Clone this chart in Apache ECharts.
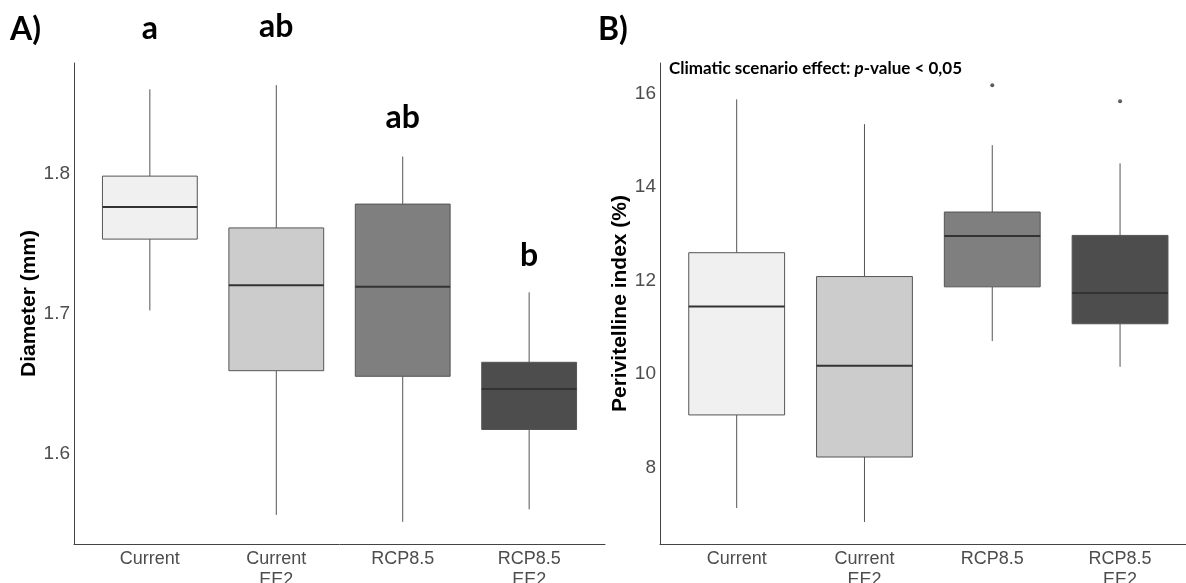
<!DOCTYPE html>
<html>
<head>
<meta charset="utf-8">
<script src="https://cdn.jsdelivr.net/npm/echarts@6/dist/echarts.min.js"></script>
<style>
html,body{margin:0;padding:0;background:#fff;}
#c{width:1186px;height:583px;}
</style>
</head>
<body>
<div id="c"></div>
<script>
// ---- data ----
const categories = ['Current', 'Current\nEE2', 'RCP8.5', 'RCP8.5\nEE2'];
const letters = ['a', 'ab', 'ab', 'b'];
const letterY = [1.903, 1.9045, 1.840, 1.7415];   // annotation heights (mm)

// Panel A: Diameter (mm)
const diamLow  = [1.702, 1.556, 1.551, 1.560];
const diamQ1   = [1.753, 1.659, 1.655, 1.617];
const diamMed  = [1.776, 1.720, 1.719, 1.646];
const diamQ3   = [1.798, 1.761, 1.778, 1.665];
const diamHigh = [1.860, 1.863, 1.812, 1.715];

// Panel B: Perivitelline index (%)
const periLow  = [7.13, 6.83, 10.70, 10.15];
const periQ1   = [9.12, 8.22, 11.86, 11.07];
const periMed  = [11.44, 10.17, 12.95, 11.73];
const periQ3   = [12.59, 12.08, 13.46, 12.96];
const periHigh = [15.87, 15.34, 14.89, 14.50];
const periOutlierCat = [3, 4];
const periOutlierVal = [16.17, 15.83];

const fills = ['#f0f0f0', '#cccccc', '#7f7f7f', '#4d4d4d'];

// ---- build ----
function boxData(lo, q1, med, q3, hi) {
  return categories.map((c, i) => [i + 1, lo[i], q1[i], med[i], q3[i], hi[i]]);
}

function renderBox(params, api) {
  const x = api.value(0);
  const idx = params.dataIndex;
  const pLo = api.coord([x, api.value(1)]);
  const pQ1 = api.coord([x, api.value(2)]);
  const pMed = api.coord([x, api.value(3)]);
  const pQ3 = api.coord([x, api.value(4)]);
  const pHi = api.coord([x, api.value(5)]);
  const w = api.size([0.75, 0])[0];
  const cx = pMed[0];
  return {
    type: 'group',
    children: [
      { type: 'line', shape: { x1: cx, y1: pHi[1], x2: cx, y2: pQ3[1] }, style: { stroke: '#555', lineWidth: 1 } },
      { type: 'line', shape: { x1: cx, y1: pQ1[1], x2: cx, y2: pLo[1] }, style: { stroke: '#555', lineWidth: 1 } },
      { type: 'rect', shape: { x: cx - w / 2, y: pQ3[1], width: w, height: pQ1[1] - pQ3[1] },
        style: { fill: fills[idx], stroke: '#555', lineWidth: 1 } },
      { type: 'line', shape: { x1: cx - w / 2, y1: pMed[1], x2: cx + w / 2, y2: pMed[1] }, style: { stroke: '#333', lineWidth: 2 } }
    ]
  };
}

function renderLetter(params, api) {
  const p = api.coord([api.value(0), api.value(1)]);
  return {
    type: 'text',
    x: p[0], y: p[1],
    style: {
      text: letters[params.dataIndex],
      fill: '#000',
      fontSize: 32, fontWeight: 'bold', fontFamily: 'Lato',
      align: 'center', verticalAlign: 'middle'
    }
  };
}

const labelFont = 'Arial';

function xAxisCfg(grid, max) {
  return {
    type: 'value', gridIndex: grid, min: 0.4, max: max,
    minInterval: 1, maxInterval: 1,
    axisLine: { show: true, lineStyle: { color: '#444', width: 1 } },
    axisTick: { show: false },
    splitLine: { show: false },
    axisLabel: {
      showMinLabel: false, showMaxLabel: false,
      formatter: v => (Number.isInteger(v) && v >= 1 && v <= categories.length) ? categories[v - 1] : '',
      color: '#4d4d4d', fontSize: 18, fontFamily: labelFont, lineHeight: 21, margin: 5
    }
  };
}

function yAxisCfg(grid, min, max, step, name, gap) {
  return {
    type: 'value', gridIndex: grid, min: min, max: max,
    minInterval: step, maxInterval: step,
    name: name, nameLocation: 'middle', nameGap: gap, nameRotate: 90,
    nameTextStyle: { color: '#000', fontSize: 21, fontWeight: 'bold', fontFamily: labelFont },
    axisLine: { show: true, lineStyle: { color: '#444', width: 1 } },
    axisTick: { show: false },
    splitLine: { show: false },
    axisLabel: {
      showMinLabel: false, showMaxLabel: false,
      color: '#4d4d4d', fontSize: 19, fontFamily: labelFont, margin: 4
    }
  };
}

const chart = echarts.init(document.getElementById('c'), null, { renderer: 'canvas' });
chart.setOption({
  animation: false,
  backgroundColor: '#fff',
  grid: [
    { left: 74, top: 63, width: 531, height: 481, outerBoundsMode: 'none', containLabel: false },
    { left: 660, top: 63, width: 526, height: 481, outerBoundsMode: 'none', containLabel: false }
  ],
  xAxis: [xAxisCfg(0, 4.6), xAxisCfg(1, 4.516)],
  yAxis: [
    yAxisCfg(0, 1.5352, 1.8788, 0.1, 'Diameter (mm)', 32),
    yAxisCfg(1, 6.359, 16.648, 2, 'Perivitelline index (%)', 28)
  ],
  graphic: [
    { type: 'text', left: 10, top: 14, style: { text: 'A)', fill: '#000', fontSize: 32, fontWeight: 'bold', fontFamily: 'Lato' } },
    { type: 'text', left: 598, top: 14, style: { text: 'B)', fill: '#000', fontSize: 32, fontWeight: 'bold', fontFamily: 'Lato' } },
    { type: 'text', left: 669, top: 60, style: {
        text: '{b|Climatic scenario effect: }{i|p}{b|-value < 0,05}',
        rich: {
          b: { fontSize: 17, fontWeight: 'bold', fontFamily: 'Lato', fill: '#000' },
          i: { fontSize: 17, fontWeight: 'bold', fontStyle: 'italic', fontFamily: 'Lato', fill: '#000' }
        }
      } }
  ],
  series: [
    { type: 'custom', xAxisIndex: 0, yAxisIndex: 0, renderItem: renderBox,
      encode: { x: 0, y: [1, 2, 3, 4, 5] },
      data: boxData(diamLow, diamQ1, diamMed, diamQ3, diamHigh) },
    { type: 'custom', xAxisIndex: 0, yAxisIndex: 0, renderItem: renderLetter, clip: false,
      encode: { x: 0, y: 1 },
      data: categories.map((c, i) => [i + 1, letterY[i]]) },
    { type: 'custom', xAxisIndex: 1, yAxisIndex: 1, renderItem: renderBox,
      encode: { x: 0, y: [1, 2, 3, 4, 5] },
      data: boxData(periLow, periQ1, periMed, periQ3, periHigh) },
    { type: 'scatter', xAxisIndex: 1, yAxisIndex: 1, symbol: 'circle', symbolSize: 4,
      itemStyle: { color: '#333' }, clip: false,
      data: periOutlierCat.map((c, i) => [c, periOutlierVal[i]]) }
  ]
});
</script>
</body>
</html>
